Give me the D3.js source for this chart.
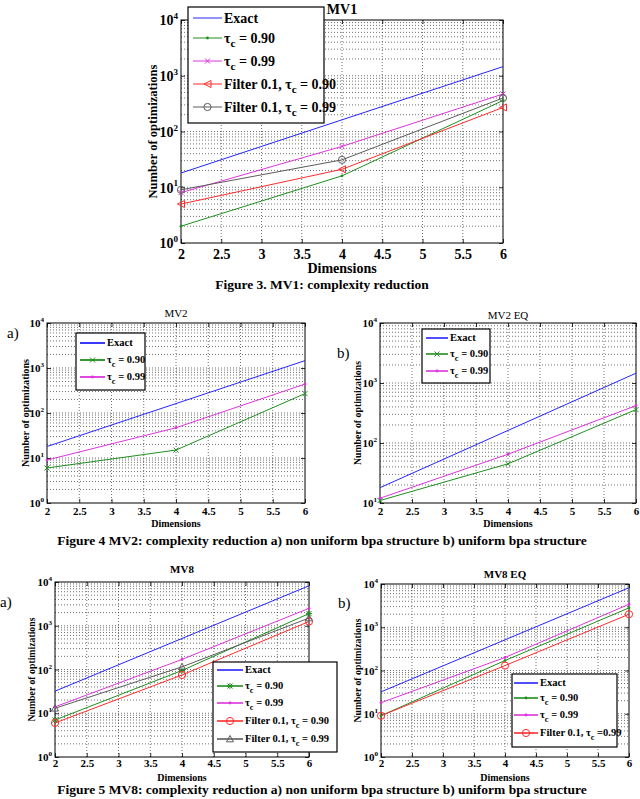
<!DOCTYPE html>
<html>
<head>
<meta charset="utf-8">
<script src="https://cdnjs.cloudflare.com/ajax/libs/d3/7.8.5/d3.min.js"></script>
<style>
  body { margin: 0; background: #fff; }
  svg { font-family: "Liberation Serif", "DejaVu Serif", serif; }
</style>
</head>
<body>
<svg id="chart" width="640" height="799"></svg>
<script>
/* DATA */
const dims = [2, 4, 6];
const xTicks = [2, 2.5, 3, 3.5, 4, 4.5, 5, 5.5, 6];

const mv1Exact = [18, 162, 1458];
const mv1Tau90 = [2, 16, 360];
const mv1Tau99 = [8, 54, 470];
const mv1Filt90 = [5, 21, 270];
const mv1Filt99 = [9, 31, 400];

const mv2Exact = [18, 162, 1458];
const mv2Tau90 = [6, 15, 270];
const mv2Tau99 = [9, 47, 440];

const mv2eqExact = [18, 162, 1458];
const mv2eqTau90 = [11, 45, 360];
const mv2eqTau99 = [12, 65, 420];

const mv8Exact = [32, 512, 8192];
const mv8Tau90 = [7, 95, 1900];
const mv8Tau99 = [14, 170, 2500];
const mv8Filt90 = [6, 75, 1250];
const mv8Filt99 = [13, 115, 1500];

const mv8eqExact = [32, 512, 8192];
const mv8eqTau90 = [9, 170, 2800];
const mv8eqTau99 = [18, 200, 3400];
const mv8eqFilt99 = [9, 130, 2000];

const captions = [
  "Figure 3. MV1: complexity reduction",
  "Figure 4 MV2: complexity reduction a) non uniform bpa structure b) uniform bpa structure",
  "Figure 5 MV8: complexity reduction a) non uniform bpa structure b) uniform bpa structure"
];

/* STYLES */
const colors = { exact: "#2424ff", tau90: "#1f8f1f", tau99: "#dc34dc", filt90: "#ff2b2b", filt99: "#5c5c5c" };

const panels = [
  {
    title: "MV1", left: 181, right: 503, top: 20, bottom: 243, yDomain: [1, 1e4],
    fs: 14, titleW: "bold", titleY: 14, tickPad: 6, dimY: 273, dimFs: 14,
    yLabelX: 152, yLabelFs: 13, yLabelLen: 134,
    series: [
      { label: "Exact", values: mv1Exact, color: colors.exact, marker: null },
      { label: "τ_c = 0.90", values: mv1Tau90, color: colors.tau90, marker: "dot" },
      { label: "τ_c = 0.99", values: mv1Tau99, color: colors.tau99, marker: "x" },
      { label: "Filter 0.1, τ_c = 0.90", values: mv1Filt90, color: colors.filt90, marker: "left" },
      { label: "Filter 0.1, τ_c = 0.99", values: mv1Filt99, color: colors.filt99, marker: "o" }
    ],
    legend: { x0: 188, y0: 7, x1: 324, y1: 123, rows: [18, 38, 61, 84, 107], lx0: 193, lx1: 222, tx: 224, fs: 14, lw: 1 }
  },
  {
    title: "MV2", left: 47, right: 305, top: 323, bottom: 503, yDomain: [1, 1e4],
    fs: 11, titleW: "normal", titleY: 317, tickPad: 4, dimY: 527, dimFs: 10,
    yLabelX: 25, yLabelFs: 11, yLabelLen: 108,
    tag: { text: "a)", x: 7, y: 338 },
    series: [
      { label: "Exact", values: mv2Exact, color: colors.exact, marker: null },
      { label: "τ_c = 0.90", values: mv2Tau90, color: colors.tau90, marker: "x" },
      { label: "τ_c = 0.99", values: mv2Tau99, color: colors.tau99, marker: "dot" }
    ],
    legend: { x0: 76, y0: 333, x1: 145, y1: 390, rows: [343, 360, 377], lx0: 80, lx1: 105, tx: 107, fs: 10.5, lw: 1.8 }
  },
  {
    title: "MV2 EQ", left: 380, right: 636, top: 323, bottom: 503, yDomain: [10, 1e4],
    fs: 11, titleW: "normal", titleY: 319, tickPad: 4, dimY: 527, dimFs: 10,
    yLabelX: 357, yLabelFs: 11, yLabelLen: 104,
    tag: { text: "b)", x: 337, y: 358 },
    series: [
      { label: "Exact", values: mv2eqExact, color: colors.exact, marker: null },
      { label: "τ_c = 0.90", values: mv2eqTau90, color: colors.tau90, marker: "x" },
      { label: "τ_c = 0.99", values: mv2eqTau99, color: colors.tau99, marker: "dot" }
    ],
    legend: { x0: 422, y0: 329, x1: 490, y1: 383, rows: [338, 354, 371], lx0: 426, lx1: 448, tx: 450, fs: 10.5, lw: 1.6 }
  },
  {
    title: "MV8", left: 55, right: 309, top: 582, bottom: 757, yDomain: [1, 1e4],
    fs: 11, titleW: "bold", titleY: 573, tickPad: 2, dimY: 781, dimFs: 10,
    yLabelX: 31, yLabelFs: 11, yLabelLen: 104,
    tag: { text: "a)", x: 0, y: 607 },
    series: [
      { label: "Exact", values: mv8Exact, color: colors.exact, marker: null },
      { label: "τ_c = 0.90", values: mv8Tau90, color: colors.tau90, marker: "star" },
      { label: "τ_c = 0.99", values: mv8Tau99, color: colors.tau99, marker: "dot" },
      { label: "Filter 0.1, τ_c = 0.90", values: mv8Filt90, color: colors.filt90, marker: "o" },
      { label: "Filter 0.1, τ_c = 0.99", values: mv8Filt99, color: colors.filt99, marker: "up" }
    ],
    legend: { x0: 213, y0: 662, x1: 337, y1: 752, rows: [670, 686, 703, 721, 739], lx0: 217, lx1: 243, tx: 245, fs: 10.5, lw: 1.6 }
  },
  {
    title: "MV8 EQ", left: 381, right: 629, top: 584, bottom: 757, yDomain: [1, 1e4],
    fs: 11, titleW: "bold", titleY: 578, tickPad: 2, dimY: 781, dimFs: 10,
    yLabelX: 357, yLabelFs: 11, yLabelLen: 104,
    tag: { text: "b)", x: 338, y: 608 },
    series: [
      { label: "Exact", values: mv8eqExact, color: colors.exact, marker: null },
      { label: "τ_c = 0.90", values: mv8eqTau90, color: colors.tau90, marker: "dot" },
      { label: "τ_c = 0.99", values: mv8eqTau99, color: colors.tau99, marker: "dot" },
      { label: "Filter 0.1, τ_c =0.99", values: mv8eqFilt99, color: colors.filt90, marker: "o" }
    ],
    legend: { x0: 512, y0: 674, x1: 617, y1: 747, rows: [683, 698, 715, 733], lx0: 514, lx1: 538, tx: 540, fs: 10.5, lw: 1.6 }
  }
];

const svg = d3.select("#chart");

/* MARKERS */
function drawMarker(g, type, cx, cy, color) {
  if (!type) return;
  const s = 3.5;
  let path;
  if (type === "dot") {
    g.append("circle").attr("cx", cx).attr("cy", cy).attr("r", 1.4).attr("fill", color);
    return;
  }
  if (type === "o") {
    g.append("circle").attr("cx", cx).attr("cy", cy).attr("r", 3.6)
      .attr("fill", "none").attr("stroke", color).attr("stroke-width", 1);
    return;
  }
  if (type === "x") path = `M${cx - 2.5},${cy - 2.5}L${cx + 2.5},${cy + 2.5}M${cx - 2.5},${cy + 2.5}L${cx + 2.5},${cy - 2.5}`;
  if (type === "star") path = `M${cx - 2.5},${cy - 2.5}L${cx + 2.5},${cy + 2.5}M${cx - 2.5},${cy + 2.5}L${cx + 2.5},${cy - 2.5}M${cx - 3},${cy}L${cx + 3},${cy}M${cx},${cy - 3}L${cx},${cy + 3}`;
  if (type === "left") path = `M${cx - s},${cy}L${cx + s},${cy - s}L${cx + s},${cy + s}Z`;
  if (type === "up") path = `M${cx},${cy - s}L${cx + s},${cy + s * 0.8}L${cx - s},${cy + s * 0.8}Z`;
  g.append("path").attr("d", path).attr("fill", "none").attr("stroke", color).attr("stroke-width", 1);
}

// label text with "_c" as subscript
function richText(sel, label, fs) {
  const parts = label.split("_c");
  sel.append("tspan").text(parts[0]);
  if (parts.length > 1) {
    sel.append("tspan").attr("dy", fs * 0.3).attr("font-size", fs * 0.8).text("c");
    sel.append("tspan").attr("dy", -fs * 0.3).text(parts[1]);
  }
}

function drawPanel(p) {
  const g = svg.append("g");
  const x = d3.scaleLinear().domain([2, 6]).range([p.left, p.right]);
  const y = d3.scaleLog().domain(p.yDomain).range([p.bottom, p.top]);

  const e0 = Math.round(Math.log10(p.yDomain[0]));
  const e1 = Math.round(Math.log10(p.yDomain[1]));
  const majorY = d3.range(e0, e1 + 1).map(e => Math.pow(10, e));
  const minorY = [];
  d3.range(e0, e1).forEach(e => { for (let k = 2; k <= 9; k++) minorY.push(k * Math.pow(10, e)); });

  // grid
  const grid = g.append("g").attr("stroke", "#333").attr("stroke-width", 0.7)
    .attr("stroke-dasharray", "1,2");
  grid.selectAll("line.gy").data(minorY.concat(majorY.slice(1, -1))).join("line")
    .attr("x1", p.left).attr("x2", p.right)
    .attr("y1", d => y(d)).attr("y2", d => y(d));
  grid.selectAll("line.gx").data(xTicks.slice(1, -1)).join("line")
    .attr("y1", p.top).attr("y2", p.bottom)
    .attr("x1", d => x(d)).attr("x2", d => x(d));

  // axes
  const bottomAxis = g.append("g").attr("transform", `translate(0,${p.bottom})`)
    .call(d3.axisBottom(x).tickValues(xTicks).tickSizeInner(-4).tickSizeOuter(0)
      .tickPadding(p.tickPad).tickFormat(d3.format("")));
  bottomAxis.selectAll("text").attr("font-size", p.fs).attr("font-weight", "bold")
    .attr("font-family", "Liberation Serif").attr("fill", "#000");
  g.append("g").attr("transform", `translate(0,${p.top})`)
    .call(d3.axisTop(x).tickValues(xTicks).tickSizeInner(-4).tickSizeOuter(0).tickFormat(""));
  g.append("g").attr("transform", `translate(${p.left},0)`)
    .call(d3.axisLeft(y).tickValues(majorY).tickSizeInner(-4).tickSizeOuter(0).tickFormat(""));
  g.append("g").attr("transform", `translate(${p.right},0)`)
    .call(d3.axisRight(y).tickValues(majorY).tickSizeInner(-4).tickSizeOuter(0).tickFormat(""));
  g.selectAll(".domain").remove();
  g.selectAll(".tick line").attr("stroke", "#000").attr("stroke-width", 0.8);

  // y tick labels 10^n
  const yl = g.selectAll("text.ytl").data(majorY).join("text")
    .attr("class", "ytl")
    .attr("x", p.left - 3)
    .attr("y", d => y(d) + p.fs * 0.38)
    .attr("text-anchor", "end")
    .attr("font-size", p.fs).attr("font-weight", "bold");
  yl.append("tspan").text("10");
  yl.append("tspan").attr("dy", -p.fs * 0.45).attr("font-size", p.fs * 0.65)
    .text(d => Math.round(Math.log10(d)));

  // box
  g.append("rect").attr("x", p.left).attr("y", p.top)
    .attr("width", p.right - p.left).attr("height", p.bottom - p.top)
    .attr("fill", "none").attr("stroke", "#000").attr("stroke-width", 1);

  // series
  const line = d3.line().x((d, i) => x(dims[i])).y(d => y(d));
  p.series.forEach(s => {
    g.append("path").datum(s.values).attr("d", line)
      .attr("fill", "none").attr("stroke", s.color).attr("stroke-width", 1);
    s.values.forEach((v, i) => drawMarker(g, s.marker, x(dims[i]), y(v), s.color));
  });

  // titles
  g.append("text").attr("x", (p.left + p.right) / 2).attr("y", p.titleY)
    .attr("text-anchor", "middle").attr("font-size", p.fs).attr("font-weight", p.titleW)
    .text(p.title);
  g.append("text").attr("x", (p.left + p.right) / 2).attr("y", p.dimY)
    .attr("text-anchor", "middle").attr("font-size", p.dimFs).attr("font-weight", "bold")
    .text("Dimensions");
  g.append("text")
    .attr("transform", `translate(${p.yLabelX + p.yLabelFs * 0.35},${(p.top + p.bottom) / 2}) rotate(-90)`)
    .attr("text-anchor", "middle").attr("font-size", p.yLabelFs).attr("font-weight", "bold")
    .attr("textLength", p.yLabelLen).attr("lengthAdjust", "spacingAndGlyphs")
    .text("Number of optimizations");
  if (p.tag) {
    g.append("text").attr("x", p.tag.x).attr("y", p.tag.y).attr("font-size", 15)
      .text(p.tag.text);
  }

  // legend
  const L = p.legend;
  const lg = g.append("g");
  lg.append("rect").attr("x", L.x0).attr("y", L.y0)
    .attr("width", L.x1 - L.x0).attr("height", L.y1 - L.y0)
    .attr("fill", "#fff").attr("stroke", "#000").attr("stroke-width", 1.2);
  p.series.forEach((s, i) => {
    const ry = L.rows[i];
    lg.append("line").attr("x1", L.lx0).attr("x2", L.lx1).attr("y1", ry).attr("y2", ry)
      .attr("stroke", s.color).attr("stroke-width", L.lw);
    drawMarker(lg, s.marker, (L.lx0 + L.lx1) / 2, ry, s.color);
    const t = lg.append("text").attr("x", L.tx).attr("y", ry + L.fs * 0.33)
      .attr("font-size", L.fs).attr("font-weight", "bold");
    richText(t, s.label, L.fs);
  });
}

panels.forEach(drawPanel);

// captions
const capY = [289, 545, 794];
svg.selectAll("text.caption").data(captions).join("text")
  .attr("class", "caption")
  .attr("x", 322)
  .attr("y", (d, i) => capY[i])
  .attr("text-anchor", "middle")
  .attr("font-size", 13.5)
  .attr("font-weight", "bold")
  .text(d => d);
</script>
</body>
</html>
